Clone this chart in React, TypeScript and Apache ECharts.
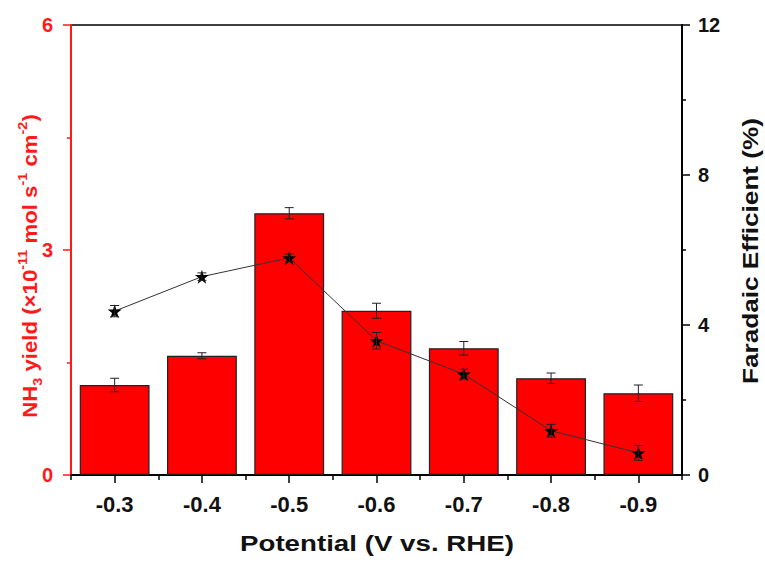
import React, { useEffect, useRef } from "react";
import * as echarts from "echarts";

const categories = ["-0.3", "-0.4", "-0.5", "-0.6", "-0.7", "-0.8", "-0.9"];
const yieldValues = [1.2, 1.59, 3.49, 2.19, 1.69, 1.29, 1.09];
const yieldErrors = [0.09, 0.04, 0.075, 0.1, 0.09, 0.07, 0.11];
const feValues = [4.37, 5.29, 5.79, 3.58, 2.69, 1.18, 0.59];
const feErrors = [0.15, 0.1, 0.1, 0.22, 0.13, 0.17, 0.2];
const leftTicks = { min: 0, max: 6, interval: 3 };
const rightTicks = { min: 0, max: 12, interval: 4 };

const FONT = "'Liberation Sans', Arial, sans-serif";
const STAR = "path://M50,0 L61,35 L98,35 L68,57 L79,91 L50,70 L21,91 L32,57 L2,35 L39,35 Z";

function errorRender(capHalf: number) {
  return (params: any, api: any) => {
    const x = api.value(0);
    const lo = api.coord([x, api.value(1)]);
    const hi = api.coord([x, api.value(2)]);
    const style = { stroke: "#222", lineWidth: 1 };
    return {
      type: "group",
      children: [
        { type: "line", shape: { x1: lo[0], y1: lo[1], x2: hi[0], y2: hi[1] }, style },
        { type: "line", shape: { x1: lo[0] - capHalf, y1: lo[1], x2: lo[0] + capHalf, y2: lo[1] }, style },
        { type: "line", shape: { x1: hi[0] - capHalf, y1: hi[1], x2: hi[0] + capHalf, y2: hi[1] }, style },
      ],
    };
  };
}

export default function App() {
  const ref = useRef<HTMLDivElement>(null);
  useEffect(() => {
    if (!ref.current) return;
    const chart = echarts.init(ref.current, null, { renderer: "svg" });
    const grid = { left: 71, right: 83, top: 25, bottom: 90, containLabel: false, outerBoundsMode: "none" };
    const yieldErr = yieldValues.map((v, i) => [i, v - yieldErrors[i], v + yieldErrors[i]]);
    const feErr = feValues.map((v, i) => [i, v - feErrors[i], v + feErrors[i]]);
    chart.setOption({
      animation: false,
      backgroundColor: "#fff",
      grid: [
        { ...grid, show: true, borderColor: "#000", borderWidth: 1.5, backgroundColor: "transparent" },
        { ...grid },
      ],
      xAxis: [
        {
          type: "category",
          gridIndex: 0,
          data: categories,
          position: "bottom",
          axisLine: { lineStyle: { color: "#000", width: 2 } },
          axisTick: { show: true, length: 5, lineStyle: { color: "#000", width: 1.5 } },
          axisLabel: { color: "#111", fontSize: 22, fontWeight: "bold", fontFamily: FONT, margin: 18 },
        },
        {
          type: "category",
          gridIndex: 1,
          data: categories,
          position: "bottom",
          axisLine: { show: false },
          axisTick: { show: true, alignWithLabel: true, length: 8, lineStyle: { color: "#000", width: 1.5 } },
          axisLabel: { show: false },
        },
      ],
      yAxis: [
        {
          type: "value",
          gridIndex: 0,
          ...leftTicks,
          position: "left",
          splitLine: { show: false },
          axisLine: { show: true, lineStyle: { color: "#ff1a1a", width: 2 } },
          axisTick: { show: true, length: 8, lineStyle: { color: "#ff1a1a", width: 1.5 } },
          minorTick: { show: true, splitNumber: 2, length: 4, lineStyle: { color: "#ff1a1a", width: 1.5 } },
          axisLabel: { color: "#ff1a1a", fontSize: 20, fontWeight: "bold", fontFamily: FONT, margin: 18 },
        },
        {
          type: "value",
          gridIndex: 0,
          ...rightTicks,
          position: "right",
          splitLine: { show: false },
          axisLine: { show: true, lineStyle: { color: "#000", width: 2 } },
          axisTick: { show: true, length: 8, lineStyle: { color: "#000", width: 1.5 } },
          minorTick: { show: true, splitNumber: 2, length: 4, lineStyle: { color: "#000", width: 1.5 } },
          axisLabel: { color: "#111", fontSize: 20, fontWeight: "bold", fontFamily: FONT, margin: 16 },
        },
        { type: "value", gridIndex: 1, show: false, min: 0, max: 6 },
      ],
      series: [
        {
          type: "bar",
          xAxisIndex: 0,
          yAxisIndex: 0,
          data: yieldValues,
          barWidth: "80%",
          itemStyle: { color: "#ff0000", borderColor: "#222", borderWidth: 1.2 },
          z: 2,
        },
        {
          type: "custom",
          xAxisIndex: 0,
          yAxisIndex: 0,
          data: yieldErr,
          renderItem: errorRender(4.5),
          encode: { x: 0, y: [1, 2] },
          z: 3,
        },
        {
          type: "line",
          xAxisIndex: 0,
          yAxisIndex: 1,
          data: feValues,
          symbol: STAR,
          symbolSize: 14,
          itemStyle: { color: "#000" },
          lineStyle: { color: "#333", width: 1 },
          z: 4,
        },
        {
          type: "custom",
          xAxisIndex: 0,
          yAxisIndex: 1,
          data: feErr,
          renderItem: errorRender(4.5),
          encode: { x: 0, y: [1, 2] },
          z: 5,
        },
      ],
      graphic: [
        {
          type: "text",
          x: 30,
          y: 266,
          rotation: Math.PI / 2,
          scaleX: 1.11,
          style: {
            text: "NH{sub|3} yield (×10{sup|-11} mol s{sup|-1} cm{sup|-2})",
            fill: "#ff1a1a",
            fontSize: 20,
            fontWeight: "bold",
            fontFamily: FONT,
            lineHeight: 28,
            align: "center",
            verticalAlign: "middle",
            rich: {
              sub: { fontSize: 13, fontWeight: "bold", fontFamily: FONT, fill: "#ff1a1a", verticalAlign: "bottom", lineHeight: 14 },
              sup: { fontSize: 13, fontWeight: "bold", fontFamily: FONT, fill: "#ff1a1a", verticalAlign: "top", lineHeight: 14 },
            },
          },
        },
        {
          type: "text",
          x: 750,
          y: 251,
          rotation: Math.PI / 2,
          scaleX: 1.19,
          style: {
            text: "Faradaic Efficient (%)",
            fill: "#111",
            fontSize: 22,
            fontWeight: "bold",
            fontFamily: FONT,
            align: "center",
            verticalAlign: "middle",
          },
        },
        {
          type: "text",
          x: 377,
          y: 543,
          scaleX: 1.26,
          style: {
            text: "Potential (V vs. RHE)",
            fill: "#111",
            fontSize: 22,
            fontWeight: "bold",
            fontFamily: FONT,
            align: "center",
            verticalAlign: "middle",
          },
        },
      ],
    });
    return () => chart.dispose();
  }, []);
  return <div ref={ref} style={{ position: "fixed", left: 0, top: 0, width: 765, height: 565 }} />;
}
